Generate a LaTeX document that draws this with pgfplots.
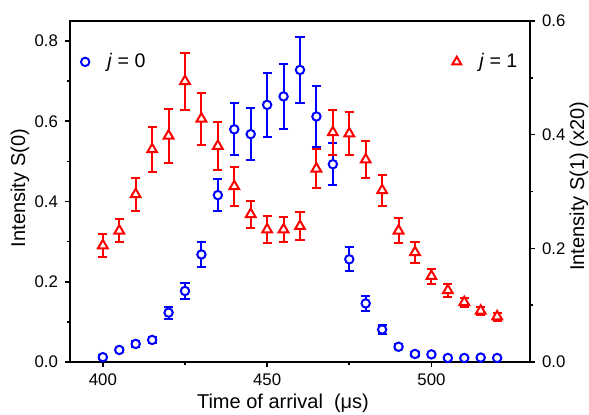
\documentclass[border=0pt]{standalone}
\usepackage{fontspec}
\setmainfont{Liberation Sans}
\usepackage{pgfplots}
\usepackage{pgfplotstable}
\pgfplotsset{compat=1.18}

\definecolor{jzero}{RGB}{0,0,255}
\definecolor{jone}{RGB}{255,0,0}

% j = 0 signal, left scale: time (us), intensity, error
\pgfplotstableread{
t    S      e
400  0.012  0.005
405  0.030  0.006
410  0.045  0.007
415  0.055  0.008
420  0.123  0.015
425  0.177  0.020
430  0.268  0.030
435  0.416  0.040
440  0.580  0.065
445  0.568  0.065
450  0.641  0.079
455  0.662  0.080
460  0.728  0.082
465  0.612  0.075
470  0.493  0.053
475  0.256  0.030
480  0.146  0.018
485  0.081  0.010
490  0.038  0.006
495  0.020  0.004
500  0.019  0.004
505  0.010  0.003
510  0.010  0.003
515  0.011  0.003
520  0.010  0.003
}\jzerotable

% j = 1 signal (x20), right scale
\pgfplotstableread{
t    S      e
400  0.205  0.021
405  0.231  0.020
410  0.295  0.029
415  0.374  0.039
420  0.398  0.047
425  0.494  0.050
430  0.428  0.046
435  0.380  0.043
440  0.309  0.034
445  0.260  0.024
450  0.233  0.023
455  0.233  0.022
460  0.239  0.025
465  0.340  0.034
470  0.404  0.039
475  0.402  0.037
480  0.356  0.033
485  0.302  0.027
490  0.231  0.022
495  0.193  0.018
500  0.151  0.013
505  0.126  0.011
510  0.105  0.008
515  0.090  0.007
520  0.080  0.007
}\jonetable

\pgfplotsset{
  common/.style={
    scale only axis, width=230pt, height=170.5pt,
    xmin=390, xmax=530,
    tick align=outside,
    major tick length=2.5pt, minor tick length=1.5pt,
    axis line style={line width=1pt},
    every tick/.style={black, line width=0.8pt},
    /pgf/number format/assume math mode=true,
    tick label style={font=\fontsize{8.4}{10}\selectfont},
    label style={font=\fontsize{10}{12}\selectfont},
    legend style={draw=none, fill=none, font=\fontsize{9.8}{11}\selectfont,
      /tikz/every odd column/.append style={column sep=7pt}},
    legend cell align=left,
  },
  ebars/.style={
    only marks, color=#1,
    mark options={fill=white, line width=1pt},
    error bars/.cd, y dir=both, y explicit,
    error bar style={line width=1pt, color=#1},
    error mark options={rotate=90, mark size=2.3pt, line width=1pt, color=#1},
    /pgfplots/.cd,
  },
}

\begin{document}
\begin{tikzpicture}
\begin{axis}[common, name=main,
  ymin=0, ymax=0.85,
  xtick={400,450,500}, minor x tick num=1,
  ytick={0,0.2,0.4,0.6,0.8}, minor y tick num=1,
  xtick pos=bottom, ytick pos=left,
  yticklabel style={/pgf/number format/.cd, fixed, fixed zerofill, precision=1},
  xlabel={Time of arrival\ \ (μs)},
  ylabel={Intensity S(0)},
  xlabel style={at={(axis description cs:0.463,-0.12)}, anchor=center},
  ylabel style={at={(axis description cs:-0.1087,0.51)}, anchor=center},
  legend style={at={(axis description cs:0.01,0.93)}, anchor=north west},
]
\addplot[mark=*, mark size=2.1pt, forget plot, ebars=jzero]
  table[x=t, y=S, y error=e] {\jzerotable};
\addlegendimage{only marks, color=jzero, mark=o, mark size=2.1pt, mark options={line width=1pt}}
\addlegendentry{\textit{j} = 0}
\end{axis}

\begin{axis}[common,
  ymin=0, ymax=0.6,
  axis x line=none, axis y line*=right,
  ytick={0,0.2,0.4,0.6}, minor y tick num=1,
  yticklabel style={/pgf/number format/.cd, fixed, fixed zerofill, precision=1},
  ylabel={Intensity S(1) (x20)},
  ylabel style={at={(axis description cs:1.1065,0.515)}, anchor=center},
  legend style={at={(axis description cs:0.995,0.93)}, anchor=north east},
]
\addplot[mark=triangle*, mark size=2.8pt, forget plot, ebars=jone]
  table[x=t, y=S, y error=e] {\jonetable};
\addlegendimage{only marks, color=jone, mark=triangle, mark size=2.6pt, mark options={line width=1pt}}
\addlegendentry{\textit{j} = 1}
\end{axis}

\pgfresetboundingbox
\path ([shift={(-35pt,-26.5pt)}]main.south west) rectangle ([shift={(29.5pt,10.5pt)}]main.north east);
\end{tikzpicture}
\end{document}
